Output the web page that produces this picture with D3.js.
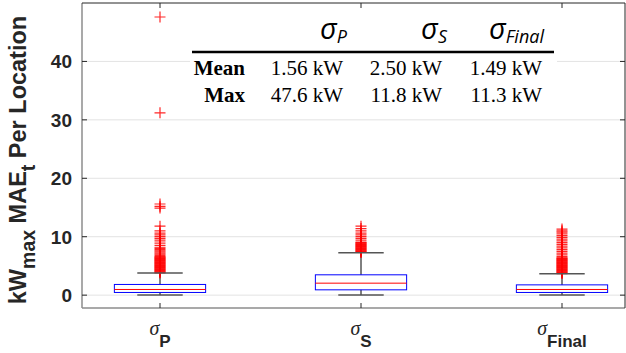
<!DOCTYPE html>
<html>
<head>
<meta charset="utf-8">
<script src="https://cdn.jsdelivr.net/npm/d3@7"></script>
<style>
  body { margin: 0; background: #fff; }
  svg { display: block; }
</style>
</head>
<body>
<div id="chart"></div>
<script>
// box statistics per group (kW)
const categories = ['P', 'S', 'Final'];
const q1 = [0.46, 0.91, 0.46];
const medians = [0.97, 2.05, 0.97];
const q3 = [1.83, 3.48, 1.76];
const whiskerLow = [0.02, 0.02, 0.02];
const whiskerHigh = [3.77, 7.25, 3.65];

// outliers
const outliersP = [3.8, 3.9, 4.0, 4.1, 4.2, 4.3, 4.4, 4.5, 4.6, 4.7, 4.8, 4.9, 5.0, 5.1, 5.2, 5.3, 5.4,
    5.5, 5.6, 5.7, 5.8, 5.9, 6.0, 6.1, 6.2, 6.3, 6.4, 6.5, 6.6, 6.8, 7.0, 7.2, 7.4, 7.6, 7.8, 8.0,
    8.2, 8.5, 8.8, 9.1, 9.4, 9.7, 10.0, 10.3, 10.6, 11.0, 11.8, 14.9, 15.2, 15.6, 31.2, 47.6];
const outliersS = [7.3, 7.4, 7.5, 7.6, 7.7, 7.8, 7.9, 8.0, 8.1, 8.2, 8.3, 8.4, 8.5, 8.6, 8.7, 8.8,
    8.9, 9.0, 9.1, 9.4, 9.7, 10.0, 10.3, 10.6, 11.0, 11.4, 11.8];
const outliersFinal = [3.7, 3.8, 3.9, 4.0, 4.1, 4.2, 4.3, 4.4, 4.5, 4.6, 4.7, 4.8, 4.9, 5.0, 5.1, 5.2,
    5.3, 5.4, 5.5, 5.6, 5.7, 5.8, 5.9, 6.0, 6.1, 6.2, 6.3, 6.4, 6.6, 6.9, 7.2, 7.5, 7.8, 8.1, 8.4,
    8.7, 9.0, 9.3, 9.6, 9.9, 10.2, 10.5, 10.8, 11.0, 11.3];
const outliers = [outliersP, outliersS, outliersFinal];

const yTicks = [0, 10, 20, 30, 40];

// summary table
const tableHeaders = ['P', 'S', 'Final'];
const tableRows = ['Mean', 'Max'];
const meanValues = ['1.56 kW', '2.50 kW', '1.49 kW'];
const maxValues = ['47.6 kW', '11.8 kW', '11.3 kW'];

const width = 626, height = 353;
const svg = d3.select('#chart').append('svg')
    .attr('width', width)
    .attr('height', height);

const x = d3.scaleLinear().domain([1, 3]).range([160, 562]);
const y = d3.scaleLinear().domain([-2.2, 50]).range([308, 3]);
const plotLeft = 82, plotRight = 625, plotTop = y(50), plotBottom = y(-2.2);
const boxHalf = 0.227;
const capHalf = 0.113;

// grid
svg.append('g')
    .selectAll('line')
    .data(yTicks)
    .join('line')
    .attr('x1', plotLeft).attr('x2', plotRight)
    .attr('y1', d => y(d)).attr('y2', d => y(d))
    .attr('stroke', '#e3e3e3')
    .attr('stroke-width', 1);

// table (white background, sits over the grid)
const tbl = svg.append('g');
tbl.append('rect')
    .attr('x', 190).attr('y', 18)
    .attr('width', 367).attr('height', 92)
    .attr('fill', '#fff');
tbl.append('line')
    .attr('x1', 192).attr('x2', 554)
    .attr('y1', 52).attr('y2', 52)
    .attr('stroke', '#000').attr('stroke-width', 2.5);

const headerRight = [347, 447, 544];
const valueRight = [343, 442, 542];

tableHeaders.forEach((h, i) => {
    const t = tbl.append('text')
        .attr('x', headerRight[i]).attr('y', 39)
        .attr('text-anchor', 'end')
        .attr('font-family', 'Open Sans, Noto Sans, sans-serif')
        .attr('font-style', 'italic')
        .attr('fill', '#000');
    t.append('tspan').attr('font-size', 29).text('σ');
    t.append('tspan').attr('font-size', 18).attr('dy', 4).text(h);
});

tableRows.forEach((r, j) => {
    const rowY = 74.5 + j * 27;
    tbl.append('text')
        .attr('x', 245).attr('y', rowY)
        .attr('text-anchor', 'end')
        .attr('font-family', 'Liberation Serif, Times New Roman, serif')
        .attr('font-weight', 'bold')
        .attr('font-size', 21)
        .text(r);
    const vals = j === 0 ? meanValues : maxValues;
    vals.forEach((v, i) => {
        tbl.append('text')
            .attr('x', valueRight[i]).attr('y', rowY)
            .attr('text-anchor', 'end')
            .attr('font-family', 'Liberation Serif, Times New Roman, serif')
            .attr('font-size', 21)
            .text(v);
    });
});

// axes frame
svg.append('line').attr('x1', plotLeft).attr('x2', plotLeft).attr('y1', plotTop).attr('y2', plotBottom)
    .attr('stroke', '#8c8c8c').attr('stroke-width', 1.5);
svg.append('line').attr('x1', plotLeft).attr('x2', plotRight).attr('y1', plotBottom).attr('y2', plotBottom)
    .attr('stroke', '#8c8c8c').attr('stroke-width', 1.5);
svg.append('line').attr('x1', plotLeft).attr('x2', plotRight).attr('y1', plotTop).attr('y2', plotTop)
    .attr('stroke', '#262626').attr('stroke-width', 1);
svg.append('line').attr('x1', plotRight).attr('x2', plotRight).attr('y1', plotTop).attr('y2', plotBottom)
    .attr('stroke', '#262626').attr('stroke-width', 1);

// y ticks + labels
const yAxis = svg.append('g');
yTicks.forEach(t => {
    yAxis.append('line').attr('x1', plotLeft).attr('x2', plotLeft + 5)
        .attr('y1', y(t)).attr('y2', y(t)).attr('stroke', '#262626');
    yAxis.append('line').attr('x1', plotRight - 5).attr('x2', plotRight)
        .attr('y1', y(t)).attr('y2', y(t)).attr('stroke', '#262626');
    yAxis.append('text')
        .attr('x', 72).attr('y', y(t) + 7)
        .attr('text-anchor', 'end')
        .attr('font-family', 'Liberation Sans, Arial, sans-serif')
        .attr('font-weight', 'bold')
        .attr('font-size', 19)
        .attr('fill', '#262626')
        .text(t);
});

// x ticks + labels
const xAxis = svg.append('g');
categories.forEach((c, i) => {
    const cx = x(i + 1);
    xAxis.append('line').attr('x1', cx).attr('x2', cx)
        .attr('y1', plotBottom).attr('y2', plotBottom - 5).attr('stroke', '#262626');
    xAxis.append('line').attr('x1', cx).attr('x2', cx)
        .attr('y1', plotTop).attr('y2', plotTop + 5).attr('stroke', '#262626');
    const t = xAxis.append('text')
        .attr('x', cx).attr('y', 335)
        .attr('text-anchor', 'middle')
        .attr('fill', '#262626');
    t.append('tspan')
        .attr('font-family', 'Liberation Serif, serif')
        .attr('font-style', 'italic')
        .attr('font-size', 20)
        .text('σ');
    t.append('tspan')
        .attr('font-family', 'Liberation Sans, Arial, sans-serif')
        .attr('font-weight', 'bold')
        .attr('font-size', 17)
        .attr('dy', 12)
        .text(c);
});

// y label
const yl = svg.append('text')
    .attr('transform', 'translate(26,160) rotate(-90)')
    .attr('text-anchor', 'middle')
    .attr('font-family', 'Liberation Sans, Arial, sans-serif')
    .attr('font-weight', 'bold')
    .attr('font-size', 23.5)
    .attr('fill', '#262626');
yl.append('tspan').text('kW');
yl.append('tspan').attr('font-size', 19.5).attr('dy', 9).text('max');
yl.append('tspan').attr('dy', -9).text(' MAE');
yl.append('tspan').attr('font-size', 19.5).attr('dy', 9).text('t');
yl.append('tspan').attr('dy', -9).text(' Per Location');

// boxes
const boxes = svg.append('g')
    .selectAll('g')
    .data(categories.map((c, i) => ({
        pos: i + 1, q1: q1[i], med: medians[i], q3: q3[i],
        lo: whiskerLow[i], hi: whiskerHigh[i], out: outliers[i]
    })))
    .join('g');

// whiskers
boxes.append('line')
    .attr('x1', d => x(d.pos)).attr('x2', d => x(d.pos))
    .attr('y1', d => y(d.q3)).attr('y2', d => y(d.hi))
    .attr('stroke', '#000').attr('stroke-width', 1);
boxes.append('line')
    .attr('x1', d => x(d.pos)).attr('x2', d => x(d.pos))
    .attr('y1', d => y(d.q1)).attr('y2', d => y(d.lo))
    .attr('stroke', '#000').attr('stroke-width', 1);

// outliers
boxes.each(function (d) {
    const g = d3.select(this);
    const px = x(d.pos);
    d.out.forEach(v => {
        const py = y(v);
        g.append('path')
            .attr('d', `M${px - 5.5},${py}H${px + 5.5}M${px},${py - 5.5}V${py + 5.5}`)
            .attr('stroke', '#ff0000')
            .attr('stroke-opacity', 0.85)
            .attr('stroke-width', 1.2)
            .attr('fill', 'none');
    });
});

// whisker caps
boxes.append('line')
    .attr('x1', d => x(d.pos - capHalf)).attr('x2', d => x(d.pos + capHalf))
    .attr('y1', d => y(d.hi)).attr('y2', d => y(d.hi))
    .attr('stroke', '#555').attr('stroke-width', 1.5);
boxes.append('line')
    .attr('x1', d => x(d.pos - capHalf)).attr('x2', d => x(d.pos + capHalf))
    .attr('y1', d => y(d.lo)).attr('y2', d => y(d.lo))
    .attr('stroke', '#555').attr('stroke-width', 1.5);

// box + median
boxes.append('rect')
    .attr('x', d => x(d.pos - boxHalf))
    .attr('width', d => x(d.pos + boxHalf) - x(d.pos - boxHalf))
    .attr('y', d => y(d.q3))
    .attr('height', d => y(d.q1) - y(d.q3))
    .attr('fill', 'none')
    .attr('stroke', '#0000ff')
    .attr('stroke-width', 1);
boxes.append('line')
    .attr('x1', d => x(d.pos - boxHalf)).attr('x2', d => x(d.pos + boxHalf))
    .attr('y1', d => y(d.med)).attr('y2', d => y(d.med))
    .attr('stroke', '#ff0000').attr('stroke-width', 1);
</script>
</body>
</html>
